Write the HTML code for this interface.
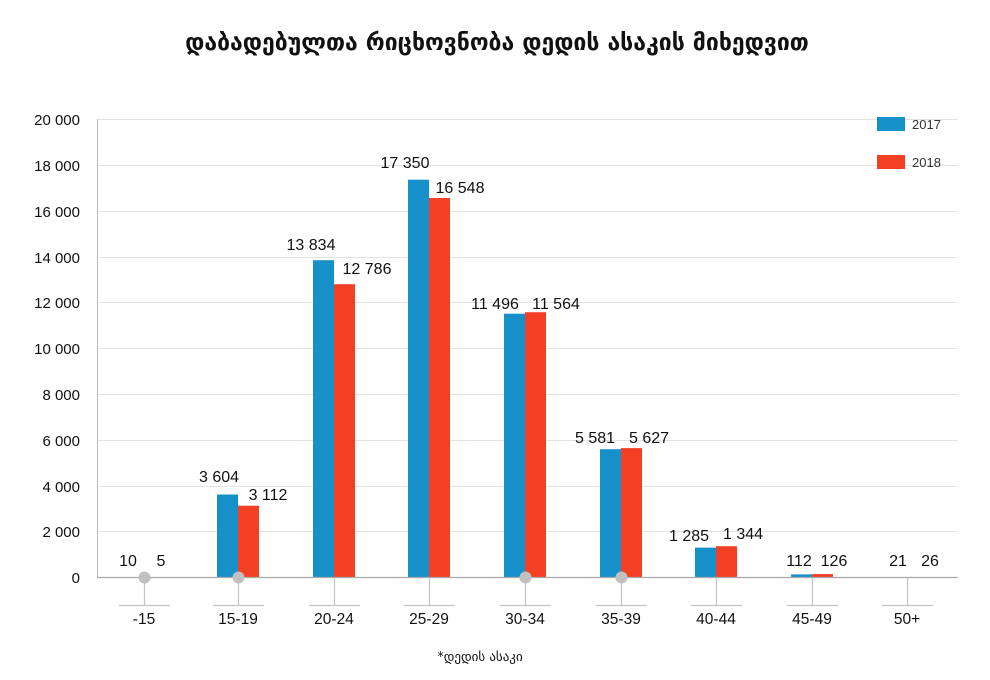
<!DOCTYPE html>
<html><head><meta charset="utf-8"><style>
html,body{margin:0;padding:0;background:#fff;}
svg{display:block;font-family:"Liberation Sans","DejaVu Sans",sans-serif;}
</style></head><body>
<svg width="990" height="680" viewBox="0 0 990 680" xmlns="http://www.w3.org/2000/svg">
<text x="497" y="50" text-anchor="middle" font-family="DejaVu Sans, sans-serif" font-size="23" font-weight="bold" fill="#111">დაბადებულთა რიცხოვნობა დედის ასაკის მიხედვით</text>
<g stroke="#e3e3e3" stroke-width="1">
<line x1="97" x2="958" y1="119.5" y2="119.5"/><line x1="97" x2="958" y1="165.5" y2="165.5"/>
<line x1="97" x2="958" y1="211.5" y2="211.5"/><line x1="97" x2="958" y1="257.5" y2="257.5"/>
<line x1="97" x2="958" y1="302.5" y2="302.5"/><line x1="97" x2="958" y1="348.5" y2="348.5"/>
<line x1="97" x2="958" y1="394.5" y2="394.5"/><line x1="97" x2="958" y1="440.5" y2="440.5"/>
<line x1="97" x2="958" y1="486.5" y2="486.5"/><line x1="97" x2="958" y1="531.5" y2="531.5"/>
</g>
<line x1="97.5" x2="97.5" y1="119" y2="577" stroke="#bbb"/>
<g font-size="15" fill="#111" text-anchor="end">
<text x="80" y="125">20 000</text><text x="80" y="171">18 000</text><text x="80" y="217">16 000</text>
<text x="80" y="263">14 000</text><text x="80" y="308">12 000</text><text x="80" y="354">10 000</text>
<text x="80" y="400">8 000</text><text x="80" y="446">6 000</text><text x="80" y="492">4 000</text>
<text x="80" y="537">2 000</text><text x="80" y="583">0</text>
</g>
<g fill="#1590c8">
<rect x="217" y="494.5" width="21" height="82.5"/>
<rect x="313" y="260.2" width="21" height="316.8"/>
<rect x="408" y="179.7" width="21" height="397.3"/>
<rect x="504" y="313.7" width="21" height="263.3"/>
<rect x="600" y="449.2" width="21" height="127.8"/>
<rect x="695" y="547.6" width="21" height="29.4"/>
<rect x="791" y="574.4" width="21" height="2.6"/>
</g>
<g fill="#f34025">
<rect x="238" y="505.7" width="21" height="71.3"/>
<rect x="334" y="284.2" width="21" height="292.8"/>
<rect x="429" y="198.0" width="21" height="379"/>
<rect x="525" y="312.2" width="21" height="264.8"/>
<rect x="621" y="448.1" width="21" height="128.9"/>
<rect x="716" y="546.2" width="21" height="30.8"/>
<rect x="812" y="574.1" width="21" height="2.9"/>
</g>
<line x1="97" x2="958" y1="577.5" y2="577.5" stroke="#aaa" stroke-width="1.2"/>
<g stroke="#c4c4c4" stroke-width="1.2">
<path d="M144.5 578V605M119 605.5H170"/><path d="M238.5 578V605M213 605.5H264"/>
<path d="M334.5 578V605M309 605.5H360"/><path d="M429.5 578V605M404 605.5H455"/>
<path d="M525.5 578V605M500 605.5H551"/><path d="M621.5 578V605M596 605.5H647"/>
<path d="M716.5 578V605M691 605.5H742"/><path d="M812.5 578V605M787 605.5H838"/>
<path d="M907.5 578V605M882 605.5H933"/>
</g>
<g fill="#c0c0c0">
<circle cx="144.5" cy="577.5" r="6"/><circle cx="238.5" cy="577.5" r="6"/>
<circle cx="525.5" cy="577.5" r="6"/><circle cx="621.5" cy="577.5" r="6"/>
</g>
<g font-size="15.5" fill="#111" text-anchor="middle">
<text x="144" y="624">-15</text><text x="238" y="624">15-19</text><text x="334" y="624">20-24</text>
<text x="429" y="624">25-29</text><text x="525" y="624">30-34</text><text x="621" y="624">35-39</text>
<text x="716" y="624">40-44</text><text x="812" y="624">45-49</text><text x="907" y="624">50+</text>
</g>
<g font-size="16" fill="#111" text-anchor="middle">
<text x="128" y="566">10</text><text x="161" y="566">5</text>
<text x="219" y="482">3 604</text><text x="268" y="500">3 112</text>
<text x="311" y="250">13 834</text><text x="367" y="274">12 786</text>
<text x="405" y="168">17 350</text><text x="460" y="193">16 548</text>
<text x="495" y="309">11 496</text><text x="556" y="309">11 564</text>
<text x="595" y="443">5 581</text><text x="649" y="443">5 627</text>
<text x="689" y="541">1 285</text><text x="743" y="539">1 344</text>
<text x="799" y="566">112</text><text x="834" y="566">126</text>
<text x="898" y="566">21</text><text x="930" y="566">26</text>
</g>
<rect x="877" y="117" width="28" height="14" fill="#1590c8"/>
<text x="912" y="129" font-size="13" fill="#333">2017</text>
<rect x="877" y="155" width="28" height="14" fill="#f34025"/>
<text x="912" y="167" font-size="13" fill="#333">2018</text>
<text x="480" y="661" text-anchor="middle" font-family="DejaVu Sans, sans-serif" font-size="13" fill="#111">*დედის ასაკი</text>
</svg>
</body></html>
